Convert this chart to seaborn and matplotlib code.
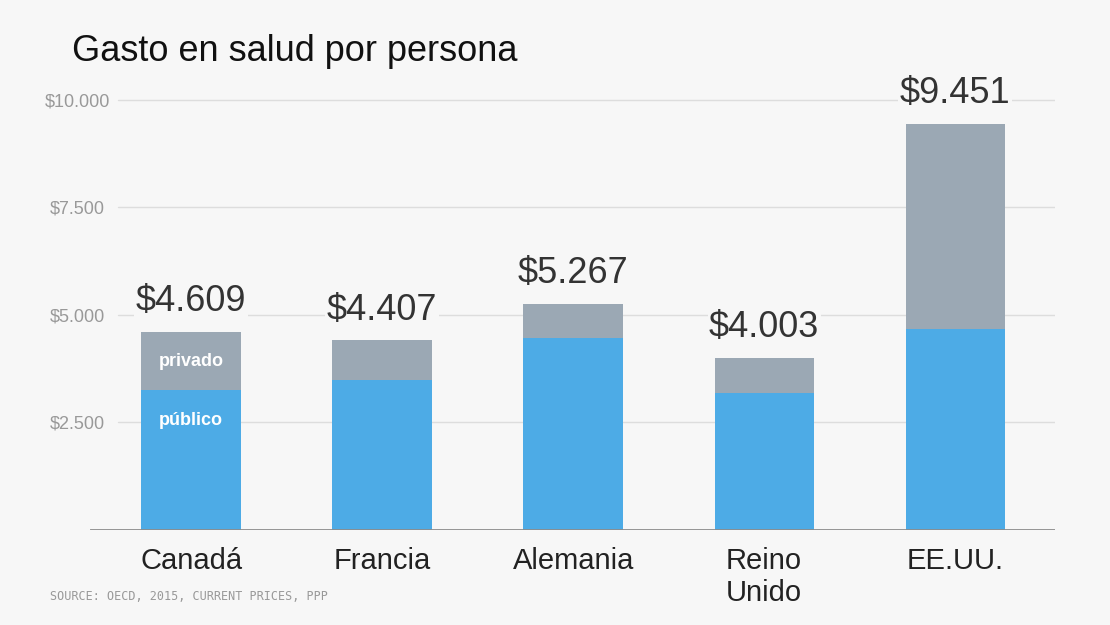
import pandas as pd
import numpy as np
import matplotlib
matplotlib.use('Agg')
import matplotlib.pyplot as plt
import seaborn as sns

# Datos: gasto en salud por persona (OECD 2015, PPP)
paises = ['Canadá', 'Francia', 'Alemania', 'Reino\nUnido', 'EE.UU.']
total = [4609, 4407, 5267, 4003, 9451]
publico = [3250, 3490, 4470, 3190, 4670]
yticks = [2500, 5000, 7500, 10000]

df = pd.DataFrame({'pais': paises, 'total': total, 'publico': publico})

fondo = '#f7f7f7'
azul = '#4dabe6'
gris = '#9ba8b4'

sns.set_theme(style='white')
plt.rcParams['font.family'] = ['Liberation Sans', 'DejaVu Sans']

fig = plt.figure(figsize=(11.1, 6.25), dpi=100, facecolor=fondo)
ax = fig.add_axes([0.081, 0.152, 0.869, 0.72])
ax.set_facecolor(fondo)

# barras apiladas: total (privado arriba) y público encima
sns.barplot(data=df, x='pais', y='total', color=gris, width=0.52,
            saturation=1, linewidth=0, ax=ax, zorder=2)
sns.barplot(data=df, x='pais', y='publico', color=azul, width=0.52,
            saturation=1, linewidth=0, ax=ax, zorder=3)

ax.set_xlim(-0.53, 4.52)
ax.set_ylim(0, 10465)

# líneas de referencia
for v in yticks:
    ax.axhline(v, xmin=0.029, xmax=1, color='#dddddd', lw=1, zorder=1)
ax.axhline(0, color='#8c8c8c', lw=2, zorder=4)

for s in ax.spines.values():
    s.set_visible(False)

ax.set_yticks(yticks)
ax.set_yticklabels([f'${v:,}'.replace(',', '.') for v in yticks],
                   color='#999999', fontsize=13, ha='center')
ax.tick_params(axis='y', length=0, pad=9)
ax.tick_params(axis='x', length=0, pad=12)
ax.set_xticks(range(len(paises)))
ax.set_xticklabels(paises, fontsize=21, color='#222222', linespacing=1.18, va='top')
ax.set_xlabel('')
ax.set_ylabel('')

# etiquetas de total
for i, v in enumerate(total):
    ax.text(i, v + 300, f'${v:,}'.replace(',', '.'), ha='center', va='bottom',
            fontsize=26, color='#333333', zorder=5,
            bbox=dict(facecolor=fondo, edgecolor='none', pad=1))

# rótulos dentro de la barra de Canadá
ax.text(0, (publico[0] + total[0]) / 2, 'privado', ha='center', va='center',
        fontsize=13, color='white', fontweight='bold', zorder=6)
ax.text(0, publico[0] - 700, 'público', ha='center', va='center',
        fontsize=13, color='white', fontweight='bold', zorder=6)

fig.text(0.065, 0.918, 'Gasto en salud por persona', fontsize=26,
         color='#111111', va='center', ha='left')
fig.text(0.045, 0.046, 'SOURCE: OECD, 2015, CURRENT PRICES, PPP',
         fontsize=8.5, color='#999999', family='DejaVu Sans Mono', va='center')

fig.savefig('out.png', dpi=100, facecolor=fondo)
